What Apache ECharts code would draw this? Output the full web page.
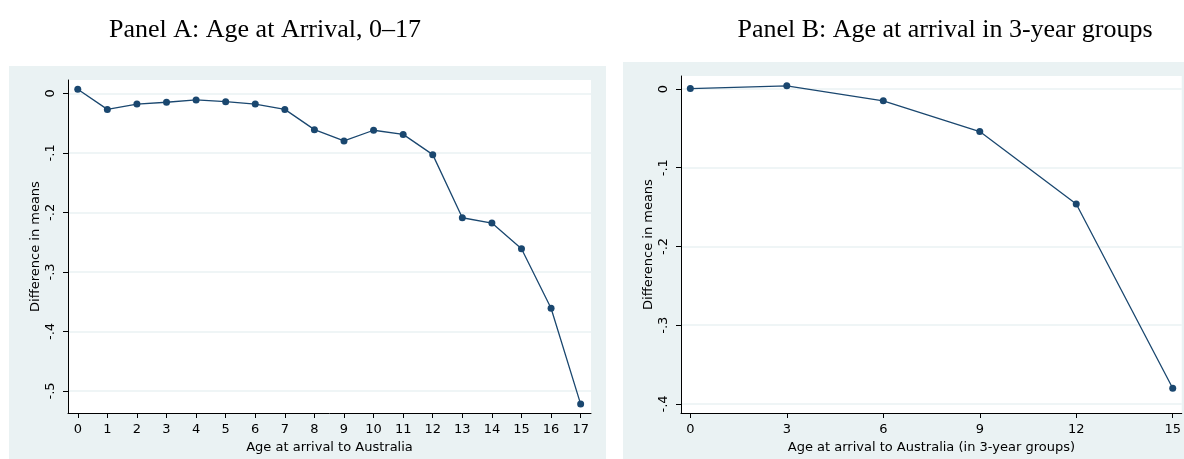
<!DOCTYPE html>
<html>
<head>
<meta charset="utf-8">
<script src="https://cdn.jsdelivr.net/npm/echarts@6/dist/echarts.min.js"></script>
<style>
  html, body { margin: 0; padding: 0; background: #fff; }
  #main { width: 1184px; height: 459px; }
</style>
</head>
<body>
<div id="main"></div>
<script>
// Panel A: single years of age at arrival
var agesA = [0, 1, 2, 3, 4, 5, 6, 7, 8, 9, 10, 11, 12, 13, 14, 15, 16, 17]
var diffA = [0.007, -0.027, -0.018, -0.015, -0.011, -0.014, -0.018, -0.027, -0.061, -0.080,
  -0.062, -0.069, -0.103, -0.209, -0.218, -0.261, -0.361, -0.522]
var yTicksA = [0, -0.1, -0.2, -0.3, -0.4, -0.5]
var yLabelsA = ['0', '-.1', '-.2', '-.3', '-.4', '-.5']

// Panel B: 3-year groups
var agesB = [0, 3, 6, 9, 12, 15]
var diffB = [0.0005, 0.004, -0.015, -0.054, -0.146, -0.380]
var yTicksB = [0, -0.1, -0.2, -0.3, -0.4]
var yLabelsB = ['0', '-.1', '-.2', '-.3', '-.4']

var titleA = 'Panel A: Age at Arrival, 0\u201317'
var titleB = 'Panel B: Age at arrival in 3-year groups'

var navy = '#1a476f'
var panelBg = '#eaf2f3'
var sans = 'DejaVu Sans, Arial, sans-serif'
var serif = 'Liberation Serif, Times New Roman, serif'

function labelOf(ticks, labels) {
  return function (v) {
    for (var i = 0; i < ticks.length; i++) {
      if (Math.abs(ticks[i] - v) < 1e-6) return labels[i]
    }
    return ''
  }
}

function xAxisOf(idx, ticks, min, max, name) {
  return {
    type: 'value',
    gridIndex: idx,
    min: min,
    max: max,
    name: name,
    nameLocation: 'middle',
    nameGap: 23,
    nameTextStyle: { color: '#000', fontSize: 13, fontFamily: sans },
    axisLine: { show: true, onZero: false, lineStyle: { color: '#000', width: 1 } },
    axisTick: { show: true, length: 5, customValues: ticks, lineStyle: { color: '#000' } },
    axisLabel: { customValues: ticks, margin: 10, color: '#000', fontSize: 13, fontFamily: sans },
    splitLine: { show: false }
  }
}

function yAxisOf(idx, ticks, labels, min, max) {
  return {
    type: 'value',
    gridIndex: idx,
    min: min,
    max: max,
    name: 'Difference in means',
    nameLocation: 'middle',
    nameGap: 26,
    nameTextStyle: { color: '#000', fontSize: 13, fontFamily: sans },
    axisLine: { show: true, onZero: false, lineStyle: { color: '#000', width: 1 } },
    axisTick: { show: true, length: 5, customValues: ticks, lineStyle: { color: '#000' } },
    axisLabel: {
      customValues: ticks,
      rotate: 90,
      margin: 11,
      color: '#000',
      fontSize: 13,
      fontFamily: sans,
      formatter: labelOf(ticks, labels)
    },
    splitLine: { show: true, lineStyle: { color: panelBg, width: 1.5 } }
  }
}

function pairs(xs, ys) {
  return xs.map(function (x, i) { return [x, ys[i]] })
}

var chart = echarts.init(document.getElementById('main'), null, { renderer: 'canvas' })

var option = {
  backgroundColor: '#fff',
  animation: false,
  graphic: [
    { type: 'rect', z: -100, shape: { x: 9, y: 66, width: 597, height: 400 }, style: { fill: panelBg } },
    { type: 'rect', z: -100, shape: { x: 623, y: 62, width: 570, height: 400 }, style: { fill: panelBg } }
  ],
  title: [
    {
      text: titleA, left: 260, top: 12, textAlign: 'center',
      textStyle: { fontFamily: serif, fontWeight: 'normal', fontSize: 26, color: '#000' }
    },
    {
      text: titleB, left: 940, top: 12, textAlign: 'center',
      textStyle: { fontFamily: serif, fontWeight: 'normal', fontSize: 26, color: '#000' }
    }
  ],
  grid: [
    { left: 68, top: 80, width: 523, height: 333, show: true, backgroundColor: '#fff', borderWidth: 0 },
    { left: 681, top: 76, width: 503, height: 337, show: true, backgroundColor: '#fff', borderWidth: 0 }
  ],
  xAxis: [
    xAxisOf(0, agesA, -0.33, 17.35, 'Age at arrival to Australia'),
    xAxisOf(1, agesB, -0.29, 15.28, 'Age at arrival to Australia (in 3-year groups)')
  ],
  yAxis: [
    yAxisOf(0, yTicksA, yLabelsA, -0.537, 0.0224),
    yAxisOf(1, yTicksB, yLabelsB, -0.4115, 0.0165)
  ],
  series: [
    {
      type: 'line', xAxisIndex: 0, yAxisIndex: 0,
      data: pairs(agesA, diffA),
      symbol: 'circle', symbolSize: 7,
      lineStyle: { color: navy, width: 1.3 },
      itemStyle: { color: navy }
    },
    {
      type: 'line', xAxisIndex: 1, yAxisIndex: 1,
      data: pairs(agesB, diffB),
      symbol: 'circle', symbolSize: 7,
      lineStyle: { color: navy, width: 1.3 },
      itemStyle: { color: navy }
    }
  ]
}

option && chart.setOption(option)
</script>
</body>
</html>
